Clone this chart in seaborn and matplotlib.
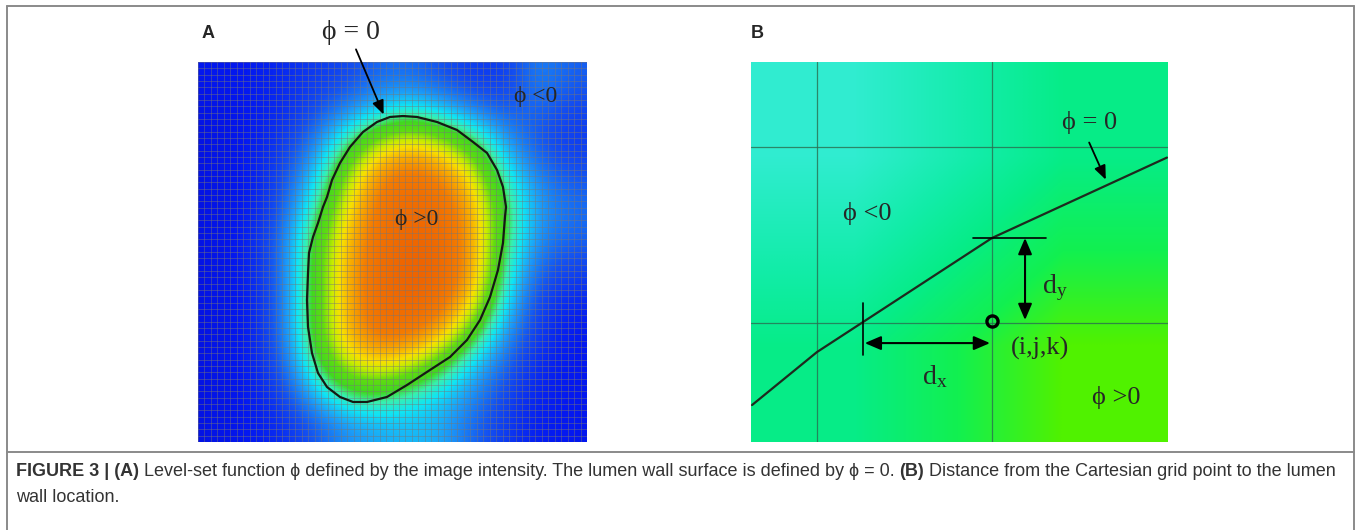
import numpy as np
import matplotlib
matplotlib.use("Agg")
import matplotlib.pyplot as plt
import seaborn as sns
from matplotlib.colors import LinearSegmentedColormap
from matplotlib.lines import Line2D

sns.set_style("white")
plt.rcParams['font.family'] = ['Liberation Sans', 'DejaVu Sans']

SERIF = ['Liberation Serif', 'DejaVu Serif']
W, H = 1360, 530

# ---- Panel A: coarse image intensity (12 x 12, rows top->bottom)
intensity = np.array([
    [0.12, 0.12, 0.15, 0.18, 0.20, 0.25, 0.26, 0.22, 0.18, 0.18, 0.30, 0.24],
    [0.10, 0.12, 0.15, 0.20, 0.28, 0.36, 0.42, 0.36, 0.28, 0.22, 0.26, 0.20],
    [0.10, 0.12, 0.17, 0.26, 0.45, 0.64, 0.72, 0.66, 0.52, 0.32, 0.22, 0.18],
    [0.10, 0.12, 0.19, 0.34, 0.60, 0.82, 0.90, 0.84, 0.70, 0.42, 0.28, 0.22],
    [0.10, 0.12, 0.21, 0.42, 0.68, 0.88, 0.94, 0.92, 0.78, 0.50, 0.32, 0.26],
    [0.10, 0.13, 0.24, 0.50, 0.74, 0.90, 0.95, 0.94, 0.80, 0.50, 0.30, 0.25],
    [0.10, 0.13, 0.24, 0.52, 0.76, 0.92, 0.97, 0.96, 0.80, 0.46, 0.25, 0.20],
    [0.10, 0.12, 0.24, 0.52, 0.76, 0.92, 0.96, 0.92, 0.74, 0.40, 0.20, 0.15],
    [0.10, 0.12, 0.24, 0.52, 0.76, 0.90, 0.90, 0.80, 0.56, 0.32, 0.18, 0.12],
    [0.10, 0.12, 0.22, 0.46, 0.68, 0.74, 0.70, 0.55, 0.38, 0.25, 0.15, 0.12],
    [0.10, 0.12, 0.18, 0.34, 0.48, 0.52, 0.45, 0.38, 0.30, 0.20, 0.14, 0.12],
    [0.10, 0.12, 0.15, 0.22, 0.30, 0.33, 0.35, 0.34, 0.25, 0.18, 0.13, 0.12],
])
n_cells = 60

# phi = 0 contour outline, in cell units (x right, y down), clockwise from the top
wall_x = [31.62, 33.78, 36.86, 39.95, 42.42, 44.58, 46.12, 47.04, 47.51, 47.35,
          47.04, 46.27, 45.04, 43.50, 41.49, 38.87, 35.78, 32.24, 29.15, 26.07,
          23.91, 21.90, 19.90, 18.51, 17.58, 16.97, 16.81, 16.97, 17.12, 17.74,
          18.51, 19.28, 19.90, 20.67, 21.90, 23.44, 25.45, 27.61, 29.61, 31.62]
wall_y = [8.53, 8.68, 9.47, 10.74, 12.63, 14.37, 17.05, 19.74, 22.89, 24.47,
          28.58, 32.84, 37.11, 40.74, 43.89, 46.58, 48.63, 51.00, 52.89, 53.68,
          53.68, 52.89, 51.32, 49.11, 45.95, 41.84, 37.58, 33.32, 30.16, 27.63,
          25.42, 22.89, 21.32, 18.63, 15.95, 13.42, 11.05, 9.47, 8.68, 8.53]

# ---- Panel B: grid-cell units, grid node (i,j,k) at (1, 0)
grid_lines = [0, 1]
front_x = [-0.371, 0.0, 1.0, 2.0]
front_y = [-0.466, -0.165, 0.483, 0.94]
node = (1.0, 0.01)
cross_x = 0.263           # where phi=0 crosses the node row
cross_y = 0.483           # where phi=0 crosses the node column
bg_vals = np.array([[0.0, 0.5], [0.5, 1.0]])

cmap_a = LinearSegmentedColormap.from_list("jetlike", [
    (0.00, '#0000b0'), (0.12, '#0418f0'), (0.22, '#1450f0'), (0.32, '#1c9cf8'),
    (0.40, '#10e4f4'), (0.46, '#38f0b0'), (0.52, '#40d820'), (0.60, '#60dc10'),
    (0.67, '#c8ec00'), (0.72, '#f8e000'), (0.78, '#f8b000'), (0.86, '#f47c00'),
    (1.00, '#ec5a00')])
cmap_b = LinearSegmentedColormap.from_list("greens", [
    (0.0, '#30ecd0'), (0.3, '#12eca8'), (0.5, '#06ec88'), (0.75, '#12f050'),
    (1.0, '#50f200')])

fig = plt.figure(figsize=(W / 100, H / 100), dpi=100)


def fig_box(x0, y0, x1, y1):
    return [x0 / W, 1 - y1 / H, (x1 - x0) / W, (y1 - y0) / H]


# ================= Panel A =================
axA = fig.add_axes(fig_box(198, 62, 587, 442))
axA.imshow(intensity, cmap=cmap_a, vmin=0, vmax=1, interpolation='bicubic',
           extent=(0, n_cells, n_cells, 0), aspect='auto', zorder=0)
axA.set_xticks(np.arange(n_cells + 1))
axA.set_yticks(np.arange(n_cells + 1))
axA.grid(True, color='#777777', lw=0.7, alpha=0.45)
axA.set_axisbelow(False)
axA.tick_params(length=0, labelbottom=False, labelleft=False)
sns.lineplot(x=wall_x, y=wall_y, sort=False, estimator=None, ax=axA,
             color='#141a12', lw=1.6, zorder=5)
axA.set_xlim(0, n_cells)
axA.set_ylim(n_cells, 0)
for s in axA.spines.values():
    s.set_visible(False)

axA.text(23.6, -4.6, '\u03d5 = 0', family=SERIF, fontsize=20, ha='center', va='center',
         clip_on=False)
axA.annotate('', xy=(28.8, 8.7), xytext=(24.2, -2.4), annotation_clip=False,
             arrowprops=dict(arrowstyle='-|>,head_length=0.6,head_width=0.25',
                             color='black', lw=1.3, mutation_scale=14))
axA.text(52.0, 5.4, '\u03d5 <0', family=SERIF, fontsize=17, ha='center', va='center')
axA.text(33.8, 24.9, '\u03d5 >0', family=SERIF, fontsize=17, ha='center', va='center')

# ================= Panel B =================
axB = fig.add_axes(fig_box(751, 62, 1168, 442))
xl, yl = (-0.377, 2.006), (-0.676, 1.483)
axB.imshow(bg_vals, cmap=cmap_b, vmin=0, vmax=1, interpolation='bilinear',
           extent=(xl[0], xl[1], yl[0], yl[1]), aspect='auto', origin='upper', zorder=0)
for g in grid_lines:
    axB.axvline(g, color='#2a6e50', lw=0.9, alpha=0.8, zorder=1)
    axB.axhline(g, color='#2a6e50', lw=0.9, alpha=0.8, zorder=1)
sns.lineplot(x=front_x, y=front_y, sort=False, estimator=None, ax=axB,
             color='#1e2a1e', lw=1.6, zorder=4)
axB.set_xlim(*xl)
axB.set_ylim(*yl)
axB.set_xticks([])
axB.set_yticks([])
for s in axB.spines.values():
    s.set_visible(False)

# distance markers
axB.plot([0.89, 1.31], [cross_y, cross_y], color='black', lw=1.2, zorder=5)
axB.plot([cross_x, cross_x], [0.114, -0.182], color='black', lw=1.2, zorder=5)
arrow_kw = dict(arrowstyle='<|-|>,head_length=0.7,head_width=0.3', color='black',
                lw=1.5, mutation_scale=14, shrinkA=0, shrinkB=0)
axB.annotate('', xy=(1.189, 0.017), xytext=(1.189, cross_y), arrowprops=arrow_kw)
axB.annotate('', xy=(0.989, -0.114), xytext=(cross_x + 0.01, -0.114), arrowprops=arrow_kw)
axB.plot(*node, marker='o', ms=8, mfc='none', mec='black', mew=2.4, zorder=6)

axB.text(1.36, 0.2, r'$\mathregular{d_y}$', family=SERIF, fontsize=20, ha='center', va='center')
axB.text(0.674, -0.307, r'$\mathregular{d_x}$', family=SERIF, fontsize=20, ha='center', va='center')
axB.text(1.274, -0.142, '(i,j,k)', family=SERIF, fontsize=19, ha='center', va='center')
axB.text(0.29, 0.625, '\u03d5 <0', family=SERIF, fontsize=19, ha='center', va='center')
axB.text(1.71, -0.426, '\u03d5 >0', family=SERIF, fontsize=19, ha='center', va='center')
axB.text(1.56, 1.14, '\u03d5 = 0', family=SERIF, fontsize=19, ha='center', va='center')
axB.annotate('', xy=(1.657, 0.80), xytext=(1.549, 1.04),
             arrowprops=dict(arrowstyle='-|>,head_length=0.6,head_width=0.25',
                             color='black', lw=1.3, mutation_scale=14))

# panel letters
fig.text(202 / W, 1 - 33 / H, 'A', fontsize=13, fontweight='bold', va='center')
fig.text(751 / W, 1 - 33 / H, 'B', fontsize=13, fontweight='bold', va='center')

# frame and caption rule
frame_kw = dict(color='#8a8a8a', lw=1.4, transform=fig.transFigure)
fig.add_artist(Line2D([7 / W, 7 / W], [0, 1 - 6 / H], **frame_kw))
fig.add_artist(Line2D([1354 / W, 1354 / W], [0, 1 - 6 / H], **frame_kw))
fig.add_artist(Line2D([7 / W, 1354 / W], [1 - 6 / H, 1 - 6 / H], **frame_kw))
fig.add_artist(Line2D([7 / W, 1354 / W], [1 - 452 / H, 1 - 452 / H], **frame_kw))

# caption, laid out piece by piece
CAP = ['Liberation Sans Narrow', 'Liberation Sans', 'DejaVu Sans']
caption_line1 = [
    ('FIGURE 3 | (A)', 'bold'),
    (' Level-set function \u03d5 defined by the image intensity. The lumen wall surface is defined by \u03d5 = 0. ', 'normal'),
    ('(B)', 'bold'),
    (' Distance from the Cartesian grid point to the lumen', 'normal'),
]
renderer = fig.canvas.get_renderer()
x = 16 / W
for txt, weight in caption_line1:
    t = fig.text(x, 1 - 472 / H, txt, family=CAP, fontsize=13, fontweight=weight,
                 color='#333333', va='center')
    bb = t.get_window_extent(renderer=renderer)
    x += bb.width / W
fig.text(16 / W, 1 - 497 / H, 'wall location.', family=CAP, fontsize=13,
         color='#333333', va='center')

fig.savefig('out.png', dpi=100)
